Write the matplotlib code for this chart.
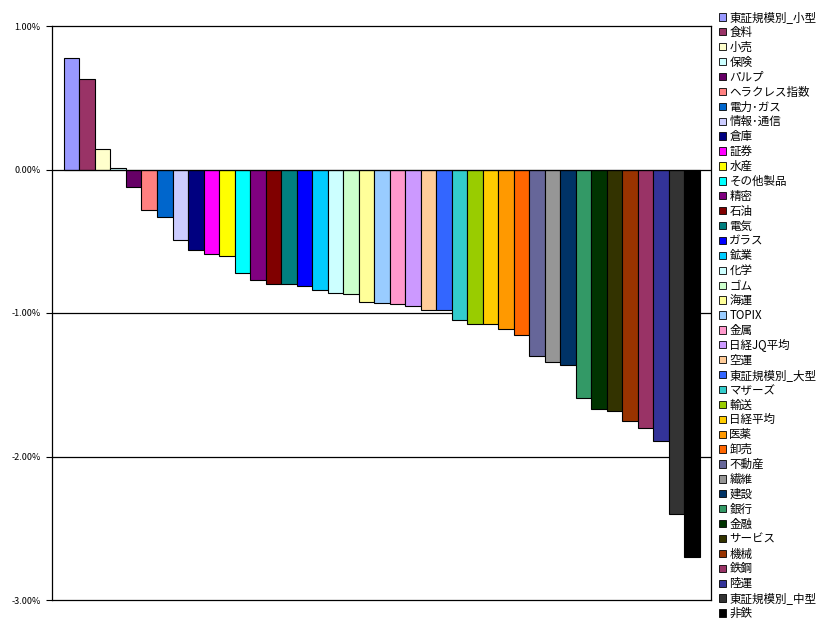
import matplotlib.pyplot as plt
from matplotlib.patches import Patch
from matplotlib.ticker import FuncFormatter

plt.rcParams['font.family'] = ['Noto Sans CJK JP', 'DejaVu Sans']

# sector / index names, sorted by return
labels = ['東証規模別_小型', '食料', '小売', '保険', 'パルプ', 'ヘラクレス指数', '電力･ガス',
          '情報･通信', '倉庫', '証券', '水産', 'その他製品', '精密', '石油', '電気',
          'ガラス', '鉱業', '化学', 'ゴム', '海運', 'TOPIX', '金属', '日経JQ平均', '空運',
          '東証規模別_大型', 'マザーズ', '輸送', '日経平均', '医薬', '卸売', '不動産',
          '繊維', '建設', '銀行', '金融', 'サービス', '機械', '鉄鋼', '陸運',
          '東証規模別_中型', '非鉄']
# daily change (%)
values = [0.78, 0.63, 0.14, 0.01, -0.12, -0.28, -0.33, -0.49, -0.56, -0.59, -0.60,
          -0.72, -0.77, -0.80, -0.80, -0.81, -0.84, -0.86, -0.87, -0.92, -0.93,
          -0.94, -0.95, -0.98, -0.98, -1.05, -1.08, -1.08, -1.11, -1.15, -1.30,
          -1.34, -1.36, -1.59, -1.67, -1.68, -1.75, -1.80, -1.89, -2.40, -2.70]
colors = ['#9999FF', '#993366', '#FFFFCC', '#CCFFFF', '#660066', '#FF8080', '#0066CC',
          '#CCCCFF', '#000080', '#FF00FF', '#FFFF00', '#00FFFF', '#800080', '#800000',
          '#008080', '#0000FF', '#00CCFF', '#CCFFFF', '#CCFFCC', '#FFFF99', '#99CCFF',
          '#FF99CC', '#CC99FF', '#FFCC99', '#3366FF', '#33CCCC', '#99CC00', '#FFCC00',
          '#FF9900', '#FF6600', '#666699', '#969696', '#003366', '#339966', '#003300',
          '#333300', '#993300', '#993366', '#333399', '#333333', '#000000']
yticks = [1, 0, -1, -2, -3]

fig = plt.figure(figsize=(8.37, 6.33), dpi=100)
ax = fig.add_axes([52 / 837, 1 - 600 / 633, 659 / 837, 574 / 633])

x = list(range(len(values)))
ax.bar(x, values, width=1.0, color=colors, edgecolor='black', linewidth=0.8, zorder=2)

ax.set_xlim(-0.5 - 0.77, len(values) - 0.5 + 0.72)
ax.set_ylim(-3, 1)
ax.set_yticks(yticks)
ax.yaxis.set_major_formatter(FuncFormatter(lambda v, p: f'{v:.2f}%'))
ax.tick_params(axis='y', direction='out', length=4.3, width=0.8, labelsize=6.5, pad=4)
ax.set_xticks([])
for s in ax.spines.values():
    s.set_linewidth(0.9)
for v in [-1, -2]:
    ax.axhline(v, color='black', linewidth=0.9, zorder=1)
ax.axhline(0, color='black', linewidth=0.9, zorder=3)

handles = [Patch(facecolor=c, edgecolor='black', linewidth=0.6) for c in colors]
fig.legend(handles, labels, loc='upper left', bbox_to_anchor=(719 / 837, 1 - 11 / 633),
           frameon=False, fontsize=8.3, handlelength=0.6, handleheight=0.6,
           handletextpad=0.3, labelspacing=0.165, borderpad=0, borderaxespad=0)

fig.savefig('out.png', dpi=100)
